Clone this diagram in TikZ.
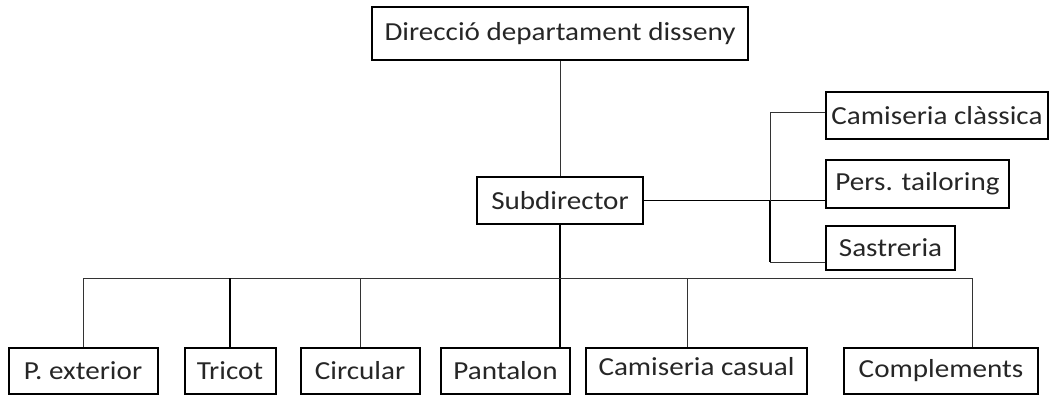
\documentclass[tikz,border=0pt]{standalone}
\usepackage{fontspec}
\setmainfont{Carlito}[FakeStretch=1.12]
\usepackage{tikz}

\begin{document}
\begin{tikzpicture}[x=1pt, y=-1pt,
                    box/.style={draw, line width=2pt, inner sep=0pt, text=black!85,
                                font=\fontsize{26}{31}\selectfont},
                    link/.style={line width=0.9pt, black!80},
                    thicklink/.style={line width=1.5pt}]
  \useasboundingbox (0,0) rectangle (1051,396);
  \node[box, minimum width=376, minimum height=53] (dir) at (560,33.5) {Direcció departament disseny};
  \node[box, minimum width=166, minimum height=47] (sub) at (560,200.5) {Subdirector};
  \node[box, minimum width=222, minimum height=47] (cla) at (937,115.5) {Camiseria clàssica};
  \node[box, minimum width=183, minimum height=48] (pers) at (917.5,184) {Pers. tailoring};
  \node[box, minimum width=129, minimum height=44] (sas) at (890.5,248) {Sastreria};
  \node[box, minimum width=149, minimum height=46] (pext) at (83,371) {P. exterior};
  \node[box, minimum width=91, minimum height=46] (tri) at (230,371) {Tricot};
  \node[box, minimum width=119, minimum height=46] (cir) at (360,371) {Circular};
  \node[box, minimum width=129, minimum height=46] (pan) at (505.5,371) {Pantalon};
  \node[box, minimum width=221, minimum height=46, text depth=10pt] (cas) at (696.5,371) {Camiseria casual};
  \node[box, minimum width=194, minimum height=46] (com) at (941,371) {Complements};

  \coordinate (busL) at (83,278);
  \coordinate (busR) at (972,278);
  \coordinate (brT) at (770,112);
  \coordinate (brB) at (770,262);

  \draw[link] (dir.south) -- (sub.north);
  \draw[thicklink] (sub.east) -- (sub.east -| pers.west);
  \draw[link] (brT) -- (brT -| cla.west);
  \draw[link] (brT) -- (brT |- sub.east);
  \draw[thicklink] (brT |- sub.east) -- (brB);
  \draw[link] (brB) -- (brB -| sas.west);
  \draw[thicklink] (sub.south) -- (sub.south |- pan.north);
  \draw[link] (pext.north) -- (busL) -- (busR) -- (busR |- com.north);
  \draw[thicklink] (tri.north) -- (tri.north |- busL);
  \draw[link] (cir.north) -- (cir.north |- busL);
  \draw[link] ([xshift=-9pt]cas.north) -- ([xshift=-9pt]cas.north |- busL);
\end{tikzpicture}
\end{document}
